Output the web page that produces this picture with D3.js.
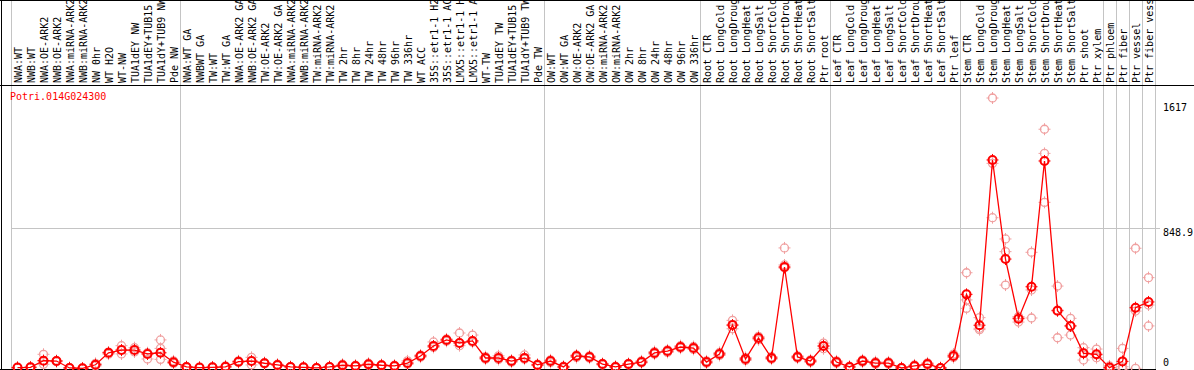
<!DOCTYPE html>
<html>
<head>
<meta charset="utf-8">
<script src="https://cdn.jsdelivr.net/npm/d3@7"></script>
<style>
  body { margin: 0; background: #fff; }
  svg { display: block; }
  text { font-family: "DejaVu Sans Mono", monospace; font-size: 10px; }
</style>
</head>
<body>
<div id="chart"></div>
<script>
// sample names (column labels), in drawing order
var samples = [
  "NWA:WT","NWB:WT","NWA:OE-ARK2","NWB:OE-ARK2","NWA:miRNA-ARK2","NWB:miRNA-ARK2","NW 0hr","WT H2O","WT-NW",
  "TUA1dEY NW","TUA1dEY+TUB15 NW","TUA1dY+TUB9 NW","Pde NW",
  "NWA:WT GA","NWBWT GA","TW:WT","TW:WT GA","NWA:OE-ARK2 GA","NWB:OE-ARK2 GA","TW:OE-ARK2","TW:OE-ARK2 GA",
  "NWA:miRNA-ARK2","NWB:miRNA-ARK2","TW:miRNA-ARK2","TW:miRNA-ARK2","TW 2hr","TW 8hr","TW 24hr","TW 48hr",
  "TW 96hr","TW 336hr","WT ACC","35S::etr1-1 H2O","35S::etr1-1 ACC","LMX5::etr1-1 H2O","LMX5::etr1-1 ACC",
  "WT-TW","TUA1dEY TW","TUA1dEY+TUB15 TW","TUA1dY+TUB9 TW","Pde TW",
  "OW:WT","OW:WT GA","OW:OE-ARK2","OW:OE-ARK2 GA","OW:miRNA-ARK2","OW:miRNA-ARK2","OW 2hr","OW 8hr",
  "OW 24hr","OW 48hr","OW 96hr","OW 336hr",
  "Root CTR","Root LongCold","Root LongDrought","Root LongHeat","Root LongSalt","Root ShortCold",
  "Root ShortDrought","Root ShortHeat","Root ShortSalt","Ptr root",
  "Leaf CTR","Leaf LongCold","Leaf LongDrought","Leaf LongHeat","Leaf LongSalt","Leaf ShortCold",
  "Leaf ShortDrought","Leaf ShortHeat","Leaf ShortSalt","Ptr leaf",
  "Stem CTR","Stem LongCold","Stem LongDrought","Stem LongHeat","Stem LongSalt","Stem ShortCold",
  "Stem ShortDrought","Stem ShortHeat","Stem ShortSalt","Ptr shoot","Ptr xylem",
  "Ptr phloem","Ptr fiber","Ptr vessel","Ptr fiber vessel"
];

// index of the first sample of each group (grey separators drawn before them)
var groupStarts = [0, 13, 41, 53, 63, 73, 84, 85, 86, 87, 88];

// mean expression per sample
var means = [
  20,22,61,59,18,16,37,108,124,124,101,108,52,
  24,20,22,25,55,59,46,36,24,22,18,24,34,30,40,34,30,47,89,148,184,166,178,77,77,59,77,36,
  59,24,89,83,41,24,41,53,107,118,142,136,
  53,101,272,71,195,77,616,83,59,148,
  53,24,59,47,47,18,30,41,18,89,
  454,271,1250,663,310,499,1244,357,267,105,99,20,57,375,409
];

// replicate values per sample
var reps = [
  [18,22,20],[20,24,22],[99,40,61],[62,55,60],[16,20,18],[14,18,16],[45,30,37],[112,100,108],[150,101,124],
  [138,113,124],[108,71,101],[184,134,69],[60,45,52],
  [26,20,24],[18,22,20],[24,20,22],[30,22,25],[60,50,55],[81,36,59],[50,42,46],[40,32,36],[26,22,24],
  [24,20,22],[20,16,18],[26,22,24],[40,28,34],[34,26,30],[46,34,40],[38,30,34],[34,26,30],[60,40,47],
  [95,82,89],[172,140,148],[190,176,184],[225,150,166],[213,170,178],[85,70,77],[90,68,77],[65,52,59],
  [95,70,77],[40,32,36],
  [66,50,59],[28,20,24],[95,80,89],[90,76,83],[45,36,41],[28,20,24],[45,36,41],[60,48,53],[115,100,107],
  [125,110,118],[150,135,142],[145,128,136],
  [60,46,53],[110,92,101],[300,250,272],[80,62,71],[205,185,195],[85,70,77],[729,628,610],[90,76,83],
  [66,52,59],[165,132,148],
  [60,46,53],[28,20,24],[66,52,59],[55,40,47],[54,40,47],[20,16,18],[36,24,30],[48,34,41],[20,16,18],
  [100,80,89],
  [582,421,371],[316,253,245],[1617,1230,908],[782,707,509],[322,318,290],[703,480,314],[1432,1289,999],
  [503,361,197],[312,267,213],[138,107,65],[130,95,79],[30,18,12],[134,25,12],[727,355,16],[553,391,267]
];

var axisTicks = [0, 848.9, 1617];
var geneName = "Potri.014G024300";

var width = 1194, height = 370;
var labelBottom = 85;

var x = d3.scaleBand().domain(d3.range(samples.length)).range([11, 1155]);
var y = d3.scaleLinear().domain([0, 1617]).range([371, 98]);
var cx = function(i) { return x(i) + x.bandwidth() / 2; };

var svg = d3.select("#chart").append("svg")
  .attr("width", width)
  .attr("height", height);

svg.append("clipPath").attr("id", "lblclip")
  .append("rect").attr("x", 0).attr("y", 1).attr("width", 1156).attr("height", labelBottom - 1);

// group separators
svg.selectAll(".vgrid").data(groupStarts).enter().append("line")
  .attr("class", "vgrid")
  .attr("x1", function(d) { return Math.round(d < samples.length ? x(d) : x.range()[1]) + 0.5; })
  .attr("x2", function(d) { return Math.round(d < samples.length ? x(d) : x.range()[1]) + 0.5; })
  .attr("y1", 0).attr("y2", height)
  .attr("stroke", "#c4c4c4").attr("stroke-width", 1);

// middle grid line
svg.append("line")
  .attr("x1", 11).attr("x2", 1160)
  .attr("y1", Math.round(y(axisTicks[1])) + 0.5).attr("y2", Math.round(y(axisTicks[1])) + 0.5)
  .attr("stroke", "#c4c4c4");

// frame
svg.append("line").attr("x1", 0).attr("x2", width).attr("y1", 0.5).attr("y2", 0.5).attr("stroke", "#000");
svg.append("line").attr("x1", 0).attr("x2", width).attr("y1", labelBottom + 0.5).attr("y2", labelBottom + 0.5).attr("stroke", "#000");
svg.append("line").attr("x1", 0).attr("x2", 1156).attr("y1", 369.5).attr("y2", 369.5).attr("stroke", "#000");
svg.append("line").attr("x1", 1.5).attr("x2", 1.5).attr("y1", 0).attr("y2", height).attr("stroke", "#000");

// rotated sample labels
svg.append("g").attr("clip-path", "url(#lblclip)")
  .selectAll("text").data(samples).enter().append("text")
  .attr("transform", function(d, i) { return "translate(" + (cx(i) + 4.5) + "," + (labelBottom - 2) + ") rotate(-90)"; })
  .attr("fill", "#000")
  .text(function(d) { return d; });

// right axis labels
svg.selectAll(".ylab").data(axisTicks).enter().append("text")
  .attr("class", "ylab")
  .attr("x", 1163)
  .attr("y", function(d) { return Math.min(Math.max(y(d) + 8, 111), 366); })
  .attr("fill", "#000")
  .text(function(d) { return d; });

svg.append("text")
  .attr("x", 10).attr("y", 100)
  .attr("fill", "#ff0000")
  .text(geneName);

// marker: circle with little ticks
function marker(g, px, py, color, sw) {
  g.append("circle").attr("cx", px).attr("cy", py).attr("r", 4)
    .attr("fill", "none").attr("stroke", color).attr("stroke-width", sw);
  var p = d3.path();
  p.moveTo(px, py - 6); p.lineTo(px, py - 3);
  p.moveTo(px, py + 3); p.lineTo(px, py + 6);
  p.moveTo(px - 6, py); p.lineTo(px - 3, py);
  p.moveTo(px + 3, py); p.lineTo(px + 6, py);
  g.append("path").attr("d", p.toString()).attr("stroke", color).attr("stroke-width", 1);
}

var repG = svg.append("g");
reps.forEach(function(r, i) {
  r.forEach(function(v) { marker(repG, cx(i), y(v), "#f0a0a0", 1.3); });
});

var line = d3.line()
  .x(function(d, i) { return cx(i); })
  .y(function(d) { return y(d); });

svg.append("path")
  .datum(means)
  .attr("d", line)
  .attr("fill", "none")
  .attr("stroke", "#ff0000")
  .attr("stroke-width", 1.3);

var meanG = svg.append("g");
means.forEach(function(v, i) { marker(meanG, cx(i), y(v), "#ff0000", 2); });
</script>
</body>
</html>
